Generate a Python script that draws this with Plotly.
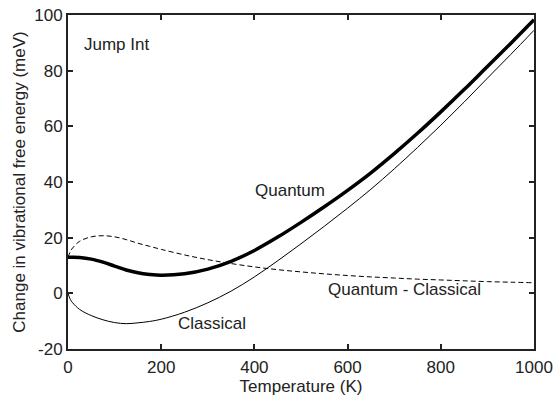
import plotly.graph_objects as go

T = [0, 5, 10, 25, 50, 75, 100, 125, 150, 175, 200, 250, 300, 350, 400, 450, 500,
     550, 600, 650, 700, 750, 800, 850, 900, 950, 1000]
quantum = [13.0, 13.0, 13.0, 12.9, 12.3, 11.2, 9.8, 8.4, 7.4, 6.8, 6.5, 7.0, 8.7, 11.5,
           15.4, 20.2, 25.5, 31.1, 37.0, 43.3, 50.2, 57.5, 65.2, 73.2, 81.5, 89.8, 98.3]
classical = [0.0, -2.2, -3.4, -5.8, -8.0, -9.5, -10.5, -10.9, -10.6, -10.1, -9.3, -6.8,
             -3.4, 0.8, 5.9, 11.7, 17.8, 24.1, 30.6, 37.4, 44.7, 52.4, 60.4, 68.7,
             77.3, 85.8, 94.5]
diff = [13.0, 15.0, 16.3, 18.7, 20.3, 20.7, 20.3, 19.3, 18.0, 16.9, 15.8, 13.8, 12.1,
        10.7, 9.5, 8.5, 7.7, 7.0, 6.4, 5.9, 5.5, 5.1, 4.8, 4.5, 4.2, 4.0, 3.8]

x_ticks = [0, 200, 400, 600, 800, 1000]
y_ticks = [-20, 0, 20, 40, 60, 80, 100]

labels = ["Jump Int", "Quantum", "Quantum - Classical", "Classical"]
label_x = [103, 476, 722, 309]
label_y = [89.5, 36.8, 1.2, -10.8]

FONT = "Arial, Liberation Sans, Helvetica, sans-serif"
TXT = "#222222"
FS = 17

fig = go.Figure()
fig.add_trace(go.Scatter(x=T, y=diff, mode="lines",
                         line=dict(color="black", width=1, dash="5px,3px", shape="spline", smoothing=1.0)))
fig.add_trace(go.Scatter(x=T, y=classical, mode="lines",
                         line=dict(color="black", width=1, shape="spline", smoothing=1.0)))
fig.add_trace(go.Scatter(x=T, y=quantum, mode="lines",
                         line=dict(color="black", width=3.5, shape="spline", smoothing=1.0)))

for t, lx, ly in zip(labels, label_x, label_y):
    fig.add_annotation(x=lx, y=ly, text=t, showarrow=False,
                       font=dict(family=FONT, size=FS, color=TXT))

axis_common = dict(showgrid=False, zeroline=False, showline=True, linecolor="#222222",
                   linewidth=2, mirror="ticks", ticks="inside", ticklen=5, tickwidth=2,
                   tickcolor="#222222", tickfont=dict(family=FONT, size=FS, color=TXT))

fig.update_xaxes(range=[0, 1000], tickvals=x_ticks, ticktext=[str(v) for v in x_ticks],
                 ticklabelstandoff=2,
                 title=dict(text="Temperature (K)", font=dict(family=FONT, size=FS, color=TXT), standoff=0),
                 **axis_common)
fig.update_yaxes(range=[-20, 100], tickvals=y_ticks, ticktext=[str(v) for v in y_ticks],
                 title=dict(text="Change in vibrational free energy (meV)", font=dict(family=FONT, size=FS, color=TXT), standoff=4),
                 **axis_common)

fig.update_layout(width=557, height=401, showlegend=False,
                  margin=dict(l=68, r=23, t=15, b=52, autoexpand=False),
                  plot_bgcolor="white", paper_bgcolor="white")

fig.write_html("out.html")
